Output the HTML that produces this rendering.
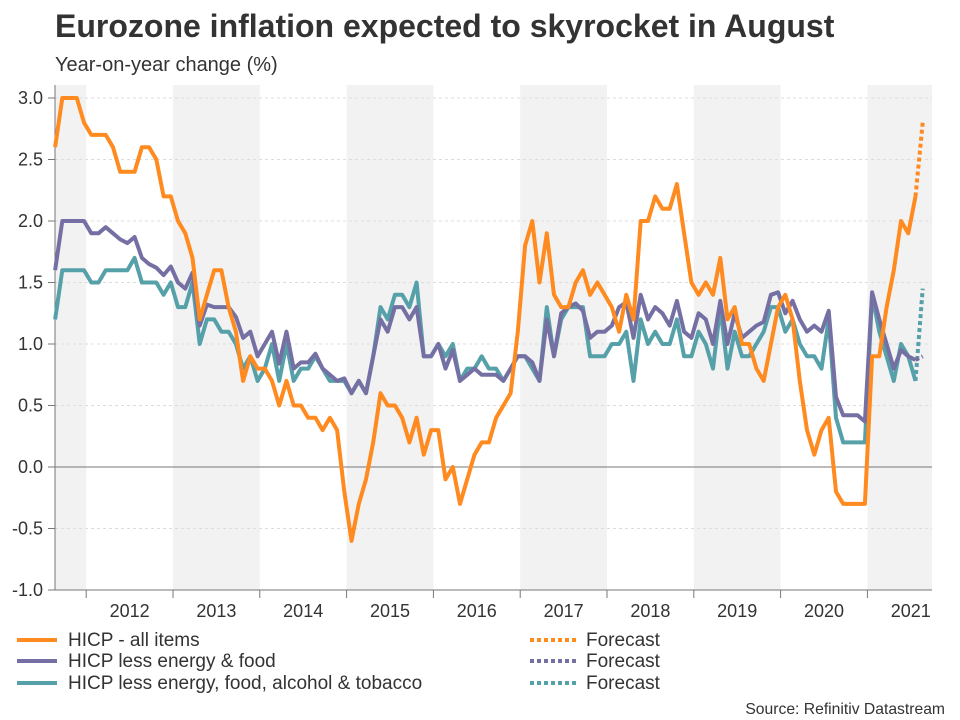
<!DOCTYPE html>
<html><head><meta charset="utf-8">
<style>
body{margin:0;background:#fff;width:960px;height:720px;overflow:hidden;font-family:"Liberation Sans",sans-serif;}
svg{display:block}
</style></head>
<body>
<svg id="chart" width="960" height="720" xmlns="http://www.w3.org/2000/svg" font-family="Liberation Sans, sans-serif">
<text x="55" y="37" font-size="32" font-weight="bold" fill="#333">Eurozone inflation expected to skyrocket in August</text>
<text x="55" y="71" font-size="20" fill="#333">Year-on-year change (%)</text>
<g id="bands"></g><g id="grid"></g><g id="axes"></g><g id="series"></g>
<g>
<line x1="17" y1="640" x2="57" y2="640" stroke="#ff8a1f" stroke-width="4"/>
<text x="68" y="646" font-size="19" fill="#333">HICP - all items</text>
<line x1="17" y1="661" x2="57" y2="661" stroke="#7570a3" stroke-width="4"/>
<text x="68" y="667" font-size="19" fill="#333">HICP less energy &amp; food</text>
<line x1="17" y1="683" x2="57" y2="683" stroke="#56a0a9" stroke-width="4"/>
<text x="68" y="689" font-size="19" fill="#333">HICP less energy, food, alcohol &amp; tobacco</text>
<line x1="530" y1="640" x2="576" y2="640" stroke="#ff8a1f" stroke-width="4" stroke-dasharray="4 3"/>
<text x="586" y="646" font-size="19" fill="#333">Forecast</text>
<line x1="530" y1="661" x2="576" y2="661" stroke="#7570a3" stroke-width="4" stroke-dasharray="4 3"/>
<text x="586" y="667" font-size="19" fill="#333">Forecast</text>
<line x1="530" y1="683" x2="576" y2="683" stroke="#56a0a9" stroke-width="4" stroke-dasharray="4 3"/>
<text x="586" y="689" font-size="19" fill="#333">Forecast</text>
</g>
<text x="945" y="714" font-size="15.7" fill="#333" text-anchor="end">Source: Refinitiv Datastream</text>
</svg>
<script>
const years=["2012","2013","2014","2015","2016","2017","2018","2019","2020","2021"];
const yTicks=[-1.0,-0.5,0.0,0.5,1.0,1.5,2.0,2.5,3.0];
const startMonth=7; // Aug 2011 (months from Jan 2011)
const hicp=[2.6,3.0,3.0,3.0,2.8,
2.7,2.7,2.7,2.6,2.4,2.4,2.4,2.6,2.6,2.5,2.2,2.2,
2.0,1.9,1.7,1.2,1.4,1.6,1.6,1.3,1.1,0.7,0.9,0.8,
0.8,0.7,0.5,0.7,0.5,0.5,0.4,0.4,0.3,0.4,0.3,-0.2,
-0.6,-0.3,-0.1,0.2,0.6,0.5,0.5,0.4,0.2,0.4,0.1,0.3,
0.3,-0.1,0.0,-0.3,-0.1,0.1,0.2,0.2,0.4,0.5,0.6,1.1,
1.8,2.0,1.5,1.9,1.4,1.3,1.3,1.5,1.6,1.4,1.5,1.4,
1.3,1.1,1.4,1.2,2.0,2.0,2.2,2.1,2.1,2.3,1.9,1.5,
1.4,1.5,1.4,1.7,1.2,1.3,1.0,1.0,0.8,0.7,1.0,1.3,
1.4,1.2,0.7,0.3,0.1,0.3,0.4,-0.2,-0.3,-0.3,-0.3,-0.3,
0.9,0.9,1.3,1.6,2.0,1.9,2.2];
const core=[1.6,2.0,2.0,2.0,2.0,
1.9,1.9,1.95,1.9,1.85,1.82,1.87,1.7,1.65,1.62,1.56,1.63,
1.5,1.45,1.58,1.15,1.32,1.3,1.3,1.3,1.22,1.05,1.1,0.9,
1.0,1.1,0.84,1.1,0.8,0.85,0.85,0.92,0.8,0.75,0.7,0.72,
0.6,0.7,0.6,0.9,1.2,1.1,1.3,1.3,1.2,1.3,0.9,0.9,
1.0,0.8,0.95,0.7,0.75,0.8,0.75,0.75,0.75,0.7,0.8,0.9,
0.9,0.85,0.7,1.2,0.9,1.25,1.3,1.33,1.27,1.05,1.1,1.1,
1.15,1.3,1.34,1.05,1.4,1.2,1.3,1.25,1.15,1.35,1.1,1.05,
1.25,1.2,1.0,1.35,1.0,1.25,1.05,1.1,1.15,1.18,1.4,1.42,
1.25,1.35,1.2,1.1,1.15,1.1,1.27,0.57,0.42,0.42,0.42,0.37,
1.42,1.2,1.0,0.8,0.95,0.9,0.87];
const superCore=[1.2,1.6,1.6,1.6,1.6,
1.5,1.5,1.6,1.6,1.6,1.6,1.7,1.5,1.5,1.5,1.4,1.5,
1.3,1.3,1.5,1.0,1.2,1.2,1.1,1.1,1.0,0.8,0.9,0.7,
0.8,1.0,0.7,1.0,0.7,0.8,0.8,0.9,0.8,0.7,0.7,0.7,
0.6,0.7,0.6,0.9,1.3,1.2,1.4,1.4,1.3,1.5,0.9,0.9,
1.0,0.9,1.0,0.7,0.8,0.8,0.9,0.8,0.8,0.7,0.8,0.9,
0.9,0.8,0.7,1.3,0.9,1.2,1.3,1.3,1.3,0.9,0.9,0.9,
1.0,1.0,1.1,0.7,1.2,1.0,1.1,1.0,1.0,1.2,0.9,0.9,
1.1,1.0,0.8,1.3,0.8,1.1,0.9,0.9,1.0,1.1,1.3,1.3,
1.1,1.2,1.0,0.9,0.9,0.8,1.2,0.4,0.2,0.2,0.2,0.2,
1.4,1.1,0.9,0.7,1.0,0.9,0.7];
const forecastHicp=[2.8];
const forecastCore=[0.9];
const forecastSuper=[1.45];

const NS="http://www.w3.org/2000/svg";
const L=55,R=932,T=85,B=590;
function xM(m){return 4.5+m*7.23;}
function yV(v){return 467-v*123;}
function yearStart(i){return -0.6+(i+1)*86.8;}
function mk(tag,attrs,parent){const e=document.createElementNS(NS,tag);for(const k in attrs)e.setAttribute(k,attrs[k]);parent.appendChild(e);return e;}
const bands=document.getElementById('bands'),grid=document.getElementById('grid'),axes=document.getElementById('axes'),ser=document.getElementById('series');
[-1,1,3,5,7,9].forEach(i=>{
  const x0=Math.max(L,yearStart(i)),x1=Math.min(R,yearStart(i+1));
  const r=mk('rect',{x:x0,y:T,width:x1-x0,height:B-T,fill:'#f2f2f2'},bands);
  
  
});
yTicks.forEach(v=>{
  const y=yV(v);
  if(v!==0&&v!==-1){const g=mk('line',{x1:L,x2:R,y1:y,y2:y,stroke:'#ddd','stroke-dasharray':'3 3','stroke-width':1},grid);
  
  }
  mk('line',{x1:L-7,x2:L,y1:y,y2:y,stroke:'#777'},axes);
  const t=mk('text',{x:L-12,y:y+6,'font-size':18,fill:'#333','text-anchor':'end'},axes);
  t.textContent=v.toFixed(1);
  
  
});
const z=mk('line',{x1:L,x2:R,y1:yV(0),y2:yV(0),stroke:'#777','stroke-width':1},axes);


const ya=mk('line',{x1:L,x2:L,y1:T,y2:B,stroke:'#777'},axes);


const xa=mk('line',{x1:L,x2:R,y1:B,y2:B,stroke:'#777'},axes);


years.forEach((yr,i)=>{
  const xs=yearStart(i);
  mk('line',{x1:xs,x2:xs,y1:B,y2:B+8,stroke:'#777'},axes);
  const t=mk('text',{x:(xs+yearStart(i+1))/2,y:B+27,'font-size':18,fill:'#333','text-anchor':'middle'},axes);
  t.textContent=yr;
  
  
});
function drawSeries(arr,fc,color,name){
  const pts=arr.map((v,i)=>xM(startMonth+i).toFixed(1)+','+yV(v).toFixed(1)).join(' ');
  const p=mk('polyline',{points:pts,fill:'none',stroke:color,'stroke-width':4,'stroke-linejoin':'round'},ser);
  
  
  const li=arr.length-1;
  const fp=[xM(startMonth+li)+','+yV(arr[li])];
  fc.forEach((v,j)=>fp.push(xM(startMonth+li+1+j)+','+yV(v)));
  const f=mk('polyline',{points:fp.join(' '),fill:'none',stroke:color,'stroke-width':4,'stroke-dasharray':'4 3'},ser);
  
  
}
drawSeries(superCore,forecastSuper,'#56a0a9','hicp-supercore');
drawSeries(core,forecastCore,'#7570a3','hicp-core');
drawSeries(hicp,forecastHicp,'#ff8a1f','hicp-all');
</script>
</body></html>
